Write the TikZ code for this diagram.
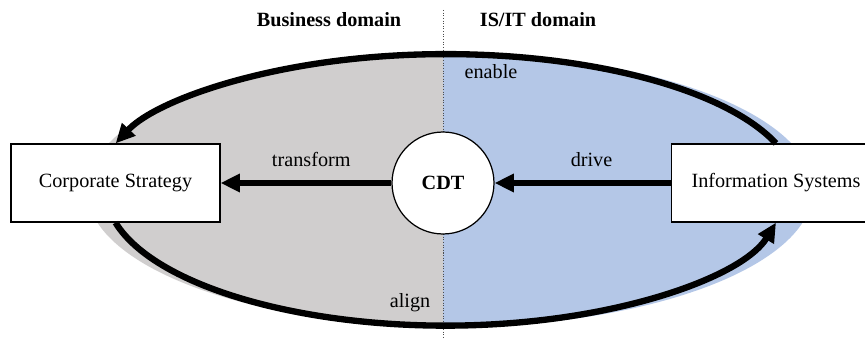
\documentclass[tikz,border=0pt]{standalone}
\usepackage{fontspec}
\setmainfont{Liberation Serif}
\usepackage{tikz}
\usetikzlibrary{arrows.meta, positioning}
\definecolor{bizgray}{HTML}{D0CECE}
\definecolor{itblue}{HTML}{B4C7E7}
\newcommand{\labelfont}{\fontsize{11.5pt}{13}\selectfont}
\tikzstyle{block} = [rectangle, minimum width=4.18cm, minimum height=1.56cm, text centered, draw=black, line width=0.7pt, fill=white]
\tikzstyle{hub} = [circle, minimum size=2.04cm, inner sep=0pt, draw=black, line width=0.7pt, fill=white, font=\labelfont\bfseries]
\tikzstyle{arrow} = [line width=3.6pt, -{Triangle[length=11pt, width=10pt]}]
\tikzstyle{areatitle} = [font=\labelfont\bfseries]
\tikzset{
  font={\labelfont}}

\begin{document}
\begin{tikzpicture}[x=0.02cm, y=0.02cm]
    \useasboundingbox (0,0) rectangle (865,338);

    % the two halves of the ellipse
    \begin{scope}
        \clip (0,0) rectangle (443,338);
        \fill [bizgray] (450,148) ellipse [x radius=7.26cm, y radius=2.74cm];
    \end{scope}
    \begin{scope}
        \clip (443,0) rectangle (865,338);
        \fill [itblue] (450,148) ellipse [x radius=7.26cm, y radius=2.74cm];
    \end{scope}

    \coordinate (divtop) at (443,328);
    \coordinate (divbot) at (443,0);
    \draw [black!70, line width=0.4pt, dash pattern=on 0.6pt off 0.9pt] (divtop) -- (divbot);

    \node (business) [areatitle] at (329,318) {Business domain};
    \node (isit) [areatitle] at (538,318) {IS/IT domain};

    \node (cdt) [hub] at (443,155) {CDT};
    \node (strategy) [block] at (115.5,155) {Corporate Strategy};
    \node (systems) [block] at (776,155) {Information Systems};

    \draw [arrow] (cdt) -- node[above, yshift=4pt, xshift=3pt] {transform} (strategy);
    \draw [arrow] (systems) -- node[above, yshift=4pt, xshift=5pt] {drive} (cdt);

    \draw [arrow] (systems.north) arc [start angle=19.8, end angle=160.2, x radius=7.02cm, y radius=2.7cm];
    \draw [arrow] (strategy.south) arc [start angle=193.7, end angle=346.3, x radius=6.8cm, y radius=2.7cm];

    \node (enable) at (491,266) {enable};
    \node (align) at (410,35) {align};
\end{tikzpicture}
\end{document}
